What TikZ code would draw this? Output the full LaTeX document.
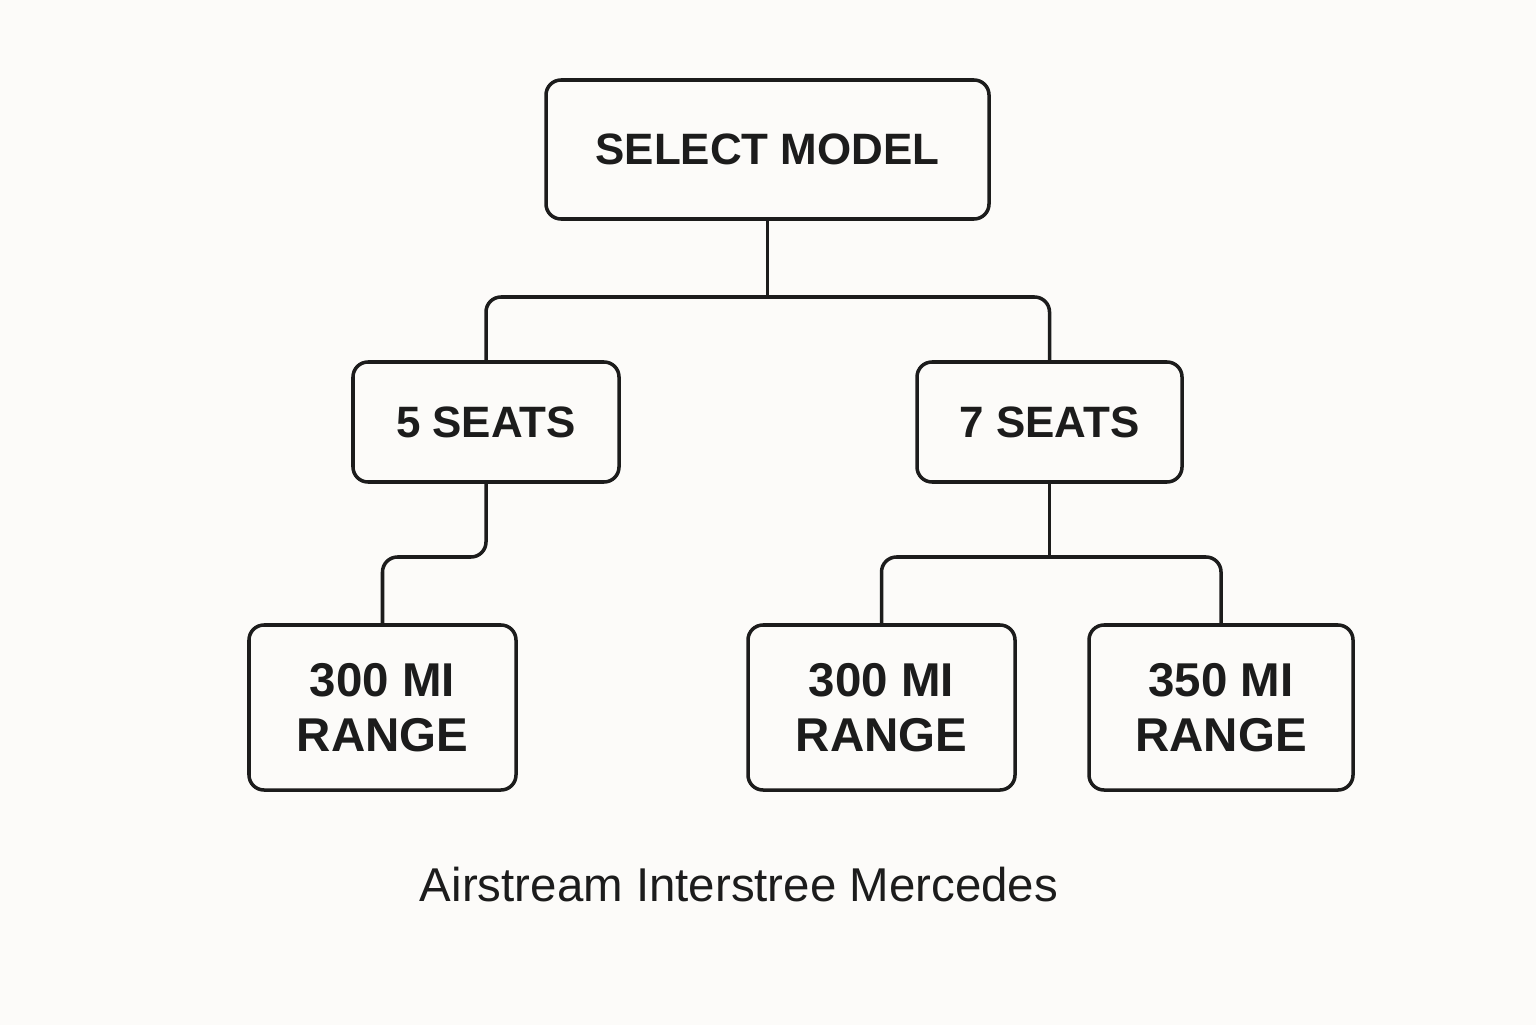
\documentclass[tikz,border=0pt]{standalone}
\usepackage{fontspec}
\setmainfont{Liberation Sans}
\usetikzlibrary{backgrounds, positioning, calc}
\definecolor{ink}{HTML}{1C1C1C}
\definecolor{paper}{HTML}{FCFBF9}
\tikzset{
  bx/.style = {draw=ink, fill=paper, text=ink, rounded corners=0.3cm,
    line width=2pt, align=center, inner sep=0pt, outer sep=0pt,
    font=\fontsize{25}{31}\selectfont\bfseries},
  rg/.style = {bx, minimum height=3.3cm,
    font=\fontsize{27}{31}\selectfont\bfseries},
  lk/.style = {draw=ink, line width=2pt, rounded corners=0.3cm},
  capt/.style = {text=ink, font=\fontsize{27}{31}\selectfont},
  every picture/.style = {background rectangle/.style={fill=paper},
    show background rectangle}
}

\begin{document}
\begin{tikzpicture}
  \useasboundingbox (0,0) rectangle (30.72,20.48);
  \node [bx, minimum width=8.86cm, minimum height=2.78cm] (sel) at (15.35,17.49) {SELECT MODEL};
  \node [bx, minimum width=5.32cm, minimum height=2.4cm] (s5) at (9.72,12.04) {5 SEATS};
  \node [bx, minimum width=5.3cm, minimum height=2.4cm] (s7) at (20.99,12.04) {7 SEATS};
  \node [rg, minimum width=5.34cm] (r1) at (7.65,6.33) {300 MI\\RANGE};
  \node [rg, minimum width=5.34cm] (r2) at (17.63,6.33) {300 MI\\RANGE};
  \node [rg, minimum width=5.28cm] (r3) at (24.42,6.33) {350 MI\\RANGE};
  \node [capt] (nm) at (14.78,2.78) {Airstream Interstree Mercedes};
  % junctions
  \coordinate (j1) at (15.35,14.54);
  \coordinate (j2) at (8.7,9.34);
  \coordinate (j3) at (20.99,9.34);
  \draw [lk] (sel.south) -- (j1);
  \draw [lk] (s5.north) |- (j1) -| (s7.north);
  \draw [lk] (s5.south) |- (j2) -| (r1.north);
  \draw [lk] (s7.south) -- (j3);
  \draw [lk] (r2.north) |- (j3) -| (r3.north);
\end{tikzpicture}
\end{document}
